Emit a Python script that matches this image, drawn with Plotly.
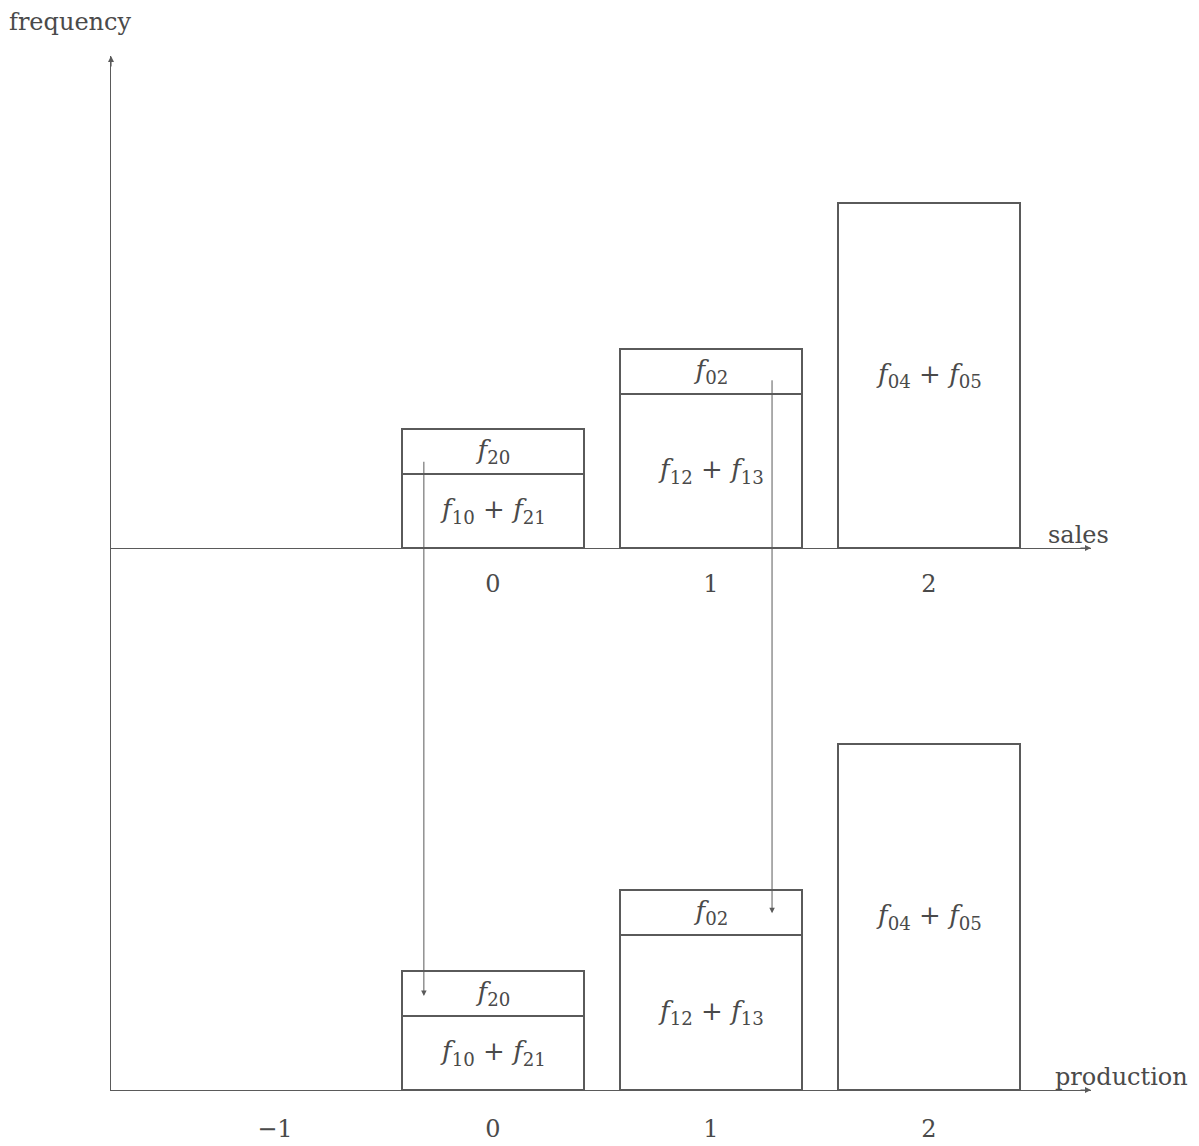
import plotly.graph_objects as go

# sales / production levels (x positions)
sales_x = [0, 1, 2]
prod_x = [0, 1, 2]

# segment heights (1 unit ~ height of the f_02 box)
sales_lower = [1.64, 3.42, 7.67]
sales_upper = [1.0, 1.0, None]
prod_lower = [1.64, 3.44, 7.69]
prod_upper = [1.0, 1.0, None]

lower_labels = ["<i>f</i><sub>10</sub> + <i>f</i><sub>21</sub>",
                "<i>f</i><sub>12</sub> + <i>f</i><sub>13</sub>",
                "<i>f</i><sub>04</sub> + <i>f</i><sub>05</sub>"]
upper_labels = ["<i>f</i><sub>20</sub>", "<i>f</i><sub>02</sub>", ""]

sales_ticks = [0, 1, 2]
prod_ticks = [-1, 0, 1, 2]

# arrows: (x in top panel, y start in top panel, y end in bottom panel)
arrow_x = [-0.317, 1.28]
arrow_from = [1.95, 3.76]
arrow_to = [2.09, 3.93]

LINE = "#5a5a5a"
TXT = "#4a4a4a"
SERIF = "DejaVu Serif, Liberation Serif, serif"

fig = go.Figure()

def add_bars(x, lower, upper, xa, ya):
    for vals, labs in ((lower, lower_labels), (upper, upper_labels)):
        fig.add_trace(go.Bar(
            x=x, y=vals, text=labs, xaxis=xa, yaxis=ya,
            width=0.835, textposition="inside", insidetextanchor="middle",
            textangle=0, texttemplate="%{text}",
            textfont=dict(family=SERIF, size=26, color=TXT),
            marker=dict(color="white", line=dict(color=LINE, width=1.5)),
            showlegend=False, hoverinfo="skip"))

add_bars(sales_x, sales_lower, sales_upper, "x", "y")
add_bars(prod_x, prod_lower, prod_upper, "x2", "y2")

split = (1089 - 547) / 1034
xr = [-1.752, 2.743]

fig.update_layout(
    width=1199, height=1146,
    margin=dict(l=103, r=116, t=48, b=64),
    paper_bgcolor="white", plot_bgcolor="white",
    barmode="stack", uniformtext=dict(mode=False),
    font=dict(family=SERIF, color=TXT),
    xaxis=dict(domain=[0, 1], range=xr, anchor="y", tickvals=sales_ticks,
               showline=True, linecolor=LINE, linewidth=1.3, showgrid=False,
               zeroline=False, ticks="", ticklabelstandoff=14,
               tickfont=dict(family=SERIF, size=24, color=TXT)),
    yaxis=dict(domain=[split, 1], range=[0, 492 / 45], showline=True,
               linecolor=LINE, linewidth=1.3, showgrid=False, zeroline=False,
               showticklabels=False, ticks=""),
    xaxis2=dict(domain=[0, 1], range=xr, anchor="y2", tickvals=prod_ticks,
                ticktext=["\u22121", "0", "1", "2"],
                showline=True, linecolor=LINE, linewidth=1.3, showgrid=False,
                zeroline=False, ticks="", ticklabelstandoff=17,
                tickfont=dict(family=SERIF, size=24, color=TXT)),
    yaxis2=dict(domain=[0, split], range=[0, 542 / 45], showline=True,
                linecolor=LINE, linewidth=1.3, showgrid=False, zeroline=False,
                showticklabels=False, ticks=""),
)

# arrows from sales boxes down to production boxes
for x, y0, y1 in zip(arrow_x, arrow_from, arrow_to):
    dy = (y0 * 45 + 542) - y1 * 45
    fig.add_annotation(x=x, y=y1, xref="x2", yref="y2", ax=0, ay=-dy,
                       showarrow=True, arrowhead=2, arrowsize=1.1,
                       arrowwidth=1, arrowcolor=LINE, text="")

# axis arrowheads
fig.add_annotation(x=0, y=1, xref="x domain", yref="y domain", ax=0, ay=12,
                   showarrow=True, arrowhead=2, arrowsize=1, arrowwidth=1.2,
                   arrowcolor=LINE, text="")
fig.add_annotation(x=1, y=0, xref="x domain", yref="y domain", ax=-12, ay=0,
                   showarrow=True, arrowhead=2, arrowsize=1, arrowwidth=1.2,
                   arrowcolor=LINE, text="")
fig.add_annotation(x=1, y=0, xref="x2 domain", yref="y2 domain", ax=-12, ay=0,
                   showarrow=True, arrowhead=2, arrowsize=1, arrowwidth=1.2,
                   arrowcolor=LINE, text="")

# axis titles
fig.add_annotation(x=0, y=1, xref="paper", yref="paper", xshift=-104,
                   text="frequency", showarrow=False, xanchor="left",
                   yanchor="bottom", yshift=18,
                   font=dict(family=SERIF, size=24, color=TXT))
fig.add_annotation(x=1, y=0, xref="x domain", yref="y domain",
                   text="sales", showarrow=False, xanchor="center",
                   yanchor="bottom", xshift=-13, yshift=-3,
                   font=dict(family=SERIF, size=24, color=TXT))
fig.add_annotation(x=1, y=0, xref="x2 domain", yref="y2 domain",
                   text="production", showarrow=False, xanchor="left",
                   yanchor="bottom", xshift=-38, yshift=-3,
                   font=dict(family=SERIF, size=24, color=TXT))

fig.write_html("out.html")
